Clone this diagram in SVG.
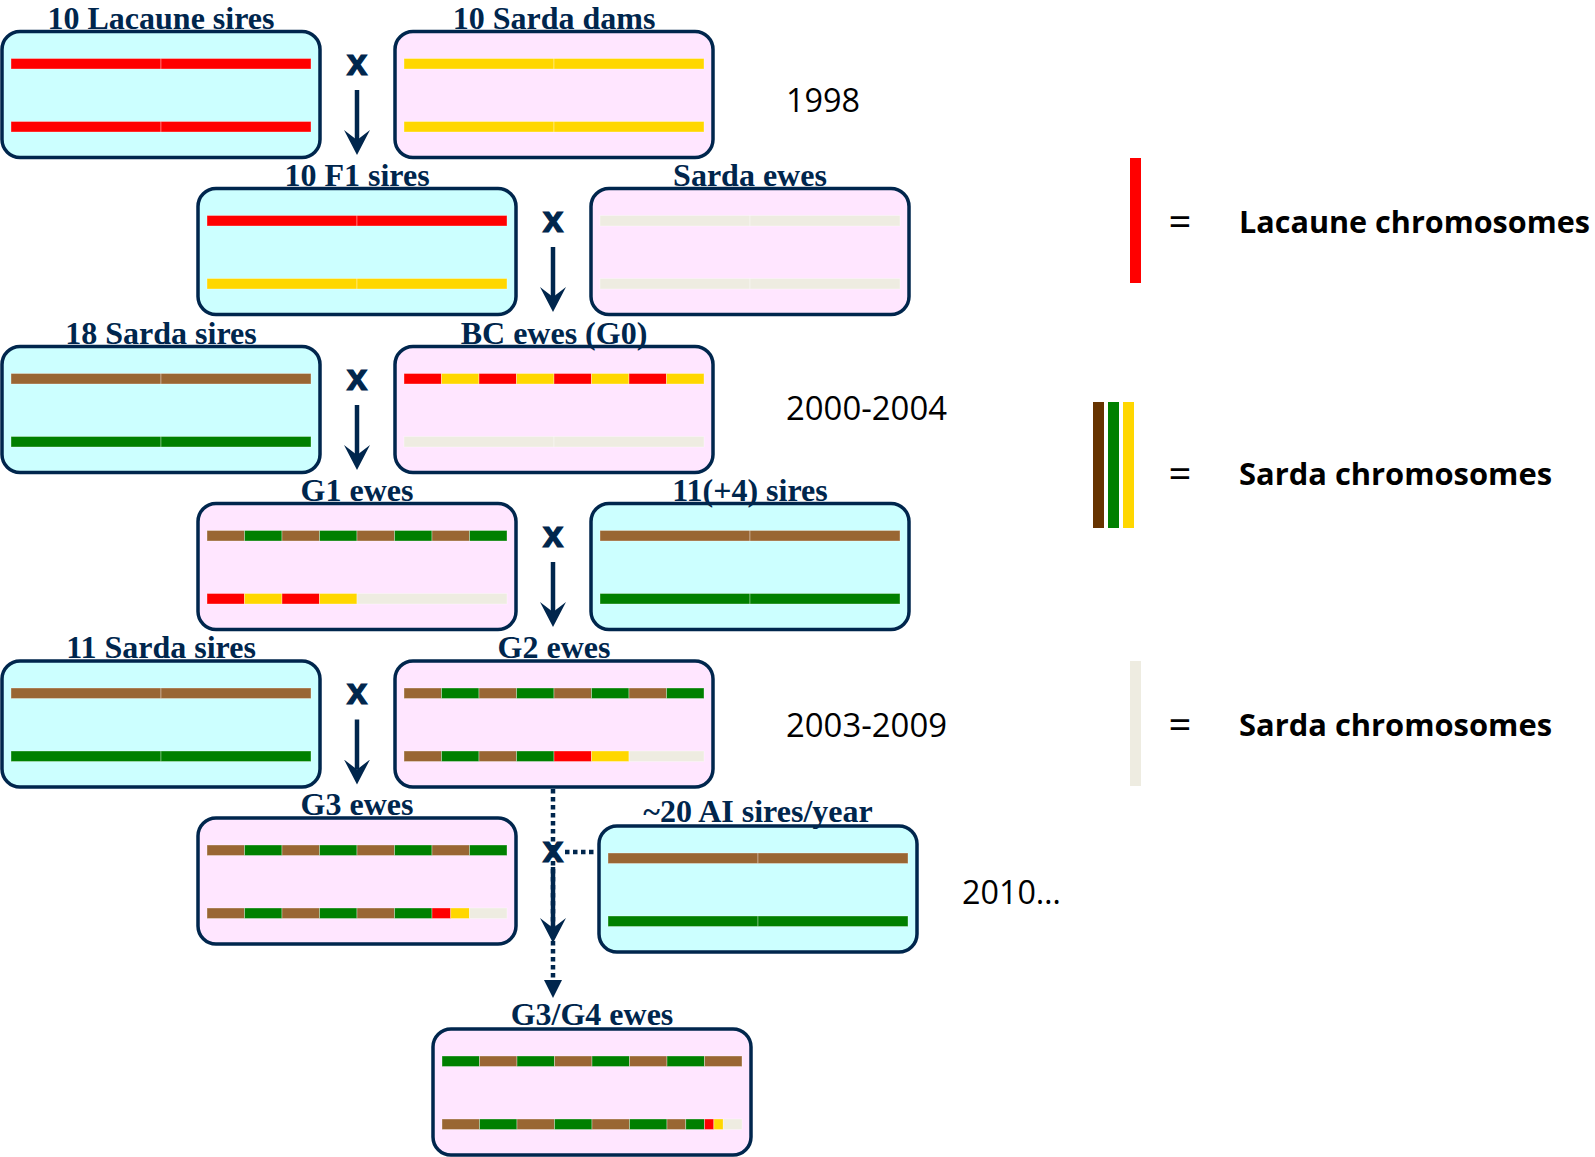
<svg xmlns="http://www.w3.org/2000/svg" width="1595" height="1157" viewBox="0 0 1595 1157">
<style>
.box{stroke:#00264D;stroke-width:3.5}
.cy{fill:#CCFFFF}
.pk{fill:#FFE6FF}
.lbl{font-family:"Liberation Serif","Times New Roman",serif;font-weight:bold;font-size:32px;fill:#00264D;text-anchor:middle}
.s{stroke:#FFFFFF;stroke-opacity:0.45;stroke-width:0.75}
.r{fill:#FF0000}
.y{fill:#FFD700}
.br{fill:#996633}
.g{fill:#008000}
.be{fill:#EEECE1}
.cross{font-family:"Liberation Sans",Arial,sans-serif;font-weight:bold;font-size:37px;fill:#00264D;stroke:#00264D;stroke-width:1.2;text-anchor:middle}
.arr{stroke:#00264D;stroke-width:4.5;fill:none}
.dot{stroke:#00264D;stroke-width:4.5;fill:none;stroke-dasharray:4.5 3.5}
.yr{font-family:"Open Sans","Liberation Sans",sans-serif;font-size:33px;fill:#000000}
.leg{font-family:"Open Sans","Liberation Sans",sans-serif;font-weight:bold;font-size:30.5px;fill:#000000}
.eq{font-family:"Open Sans","Liberation Sans",sans-serif;font-size:40px;fill:#000000;text-anchor:middle}
</style>
<defs>
<marker id="head" markerUnits="userSpaceOnUse" viewBox="0 -13 25 26" refX="10" refY="0" markerWidth="25" markerHeight="26" orient="auto">
<path d="M0,-13 L25,0 L0,13 L10,0 Z" fill="#00264D"/>
</marker>
<marker id="tri" markerUnits="userSpaceOnUse" viewBox="0 -9 18 18" refX="0" refY="0" markerWidth="18" markerHeight="18" orient="auto">
<path d="M0,-9 L18,0 L0,9 Z" fill="#00264D"/>
</marker>
</defs>
<rect width="1595" height="1157" fill="#FFFFFF"/>

<g id="connectors">
<text class="cross" x="357" y="74.5">x</text>
<line class="arr" x1="357" y1="90" x2="357" y2="140" marker-end="url(#head)"/>
<text class="cross" x="553" y="231.5">x</text>
<line class="arr" x1="553" y1="247" x2="553" y2="297" marker-end="url(#head)"/>
<text class="cross" x="357" y="389.5">x</text>
<line class="arr" x1="357" y1="405" x2="357" y2="455" marker-end="url(#head)"/>
<text class="cross" x="553" y="546.5">x</text>
<line class="arr" x1="553" y1="562" x2="553" y2="612" marker-end="url(#head)"/>
<text class="cross" x="357" y="704">x</text>
<line class="arr" x1="357" y1="719.5" x2="357" y2="769.5" marker-end="url(#head)"/>
<line class="dot" x1="553" y1="789" x2="553" y2="980" marker-end="url(#tri)"/>
<line class="dot" x1="565" y1="852" x2="594" y2="852"/>
<text class="cross" x="553" y="862">x</text>
<line class="arr" x1="553" y1="867" x2="553" y2="928" marker-end="url(#head)"/>
</g>

<g id="lacaune_sires" transform="translate(2,31.5)">
<rect class="box cy" width="318" height="126" rx="18"/>
<text class="lbl" x="159" y="-3">10 Lacaune sires</text>
<rect class="s r" x="9" y="27" width="150" height="10.5"/><rect class="s r" x="159" y="27" width="150" height="10.5"/>
<rect class="s r" x="9" y="90" width="150" height="10.5"/><rect class="s r" x="159" y="90" width="150" height="10.5"/>
</g>

<g id="sarda_dams" transform="translate(395,31.5)">
<rect class="box pk" width="318" height="126" rx="18"/>
<text class="lbl" x="159" y="-3">10 Sarda dams</text>
<rect class="s y" x="9" y="27" width="150" height="10.5"/><rect class="s y" x="159" y="27" width="150" height="10.5"/>
<rect class="s y" x="9" y="90" width="150" height="10.5"/><rect class="s y" x="159" y="90" width="150" height="10.5"/>
</g>

<g id="f1_sires" transform="translate(198,188.5)">
<rect class="box cy" width="318" height="126" rx="18"/>
<text class="lbl" x="159" y="-3">10 F1 sires</text>
<rect class="s r" x="9" y="27" width="150" height="10.5"/><rect class="s r" x="159" y="27" width="150" height="10.5"/>
<rect class="s y" x="9" y="90" width="150" height="10.5"/><rect class="s y" x="159" y="90" width="150" height="10.5"/>
</g>

<g id="sarda_ewes" transform="translate(591,188.5)">
<rect class="box pk" width="318" height="126" rx="18"/>
<text class="lbl" x="159" y="-3">Sarda ewes</text>
<rect class="s be" x="9" y="27" width="150" height="10.5"/><rect class="s be" x="159" y="27" width="150" height="10.5"/>
<rect class="s be" x="9" y="90" width="150" height="10.5"/><rect class="s be" x="159" y="90" width="150" height="10.5"/>
</g>

<g id="sarda_sires_18" transform="translate(2,346.5)">
<rect class="box cy" width="318" height="126" rx="18"/>
<text class="lbl" x="159" y="-3">18 Sarda sires</text>
<rect class="s br" x="9" y="27" width="150" height="10.5"/><rect class="s br" x="159" y="27" width="150" height="10.5"/>
<rect class="s g" x="9" y="90" width="150" height="10.5"/><rect class="s g" x="159" y="90" width="150" height="10.5"/>
</g>

<g id="bc_ewes_g0" transform="translate(395,346.5)">
<rect class="box pk" width="318" height="126" rx="18"/>
<text class="lbl" x="159" y="-3">BC ewes (G0)</text>
<rect class="s r" x="9" y="27" width="37.5" height="10.5"/><rect class="s y" x="46.5" y="27" width="37.5" height="10.5"/>
<rect class="s r" x="84" y="27" width="37.5" height="10.5"/><rect class="s y" x="121.5" y="27" width="37.5" height="10.5"/>
<rect class="s r" x="159" y="27" width="37.5" height="10.5"/><rect class="s y" x="196.5" y="27" width="37.5" height="10.5"/>
<rect class="s r" x="234" y="27" width="37.5" height="10.5"/><rect class="s y" x="271.5" y="27" width="37.5" height="10.5"/>
<rect class="s be" x="9" y="90" width="150" height="10.5"/><rect class="s be" x="159" y="90" width="150" height="10.5"/>
</g>

<g id="g1_ewes" transform="translate(198,503.5)">
<rect class="box pk" width="318" height="126" rx="18"/>
<text class="lbl" x="159" y="-3">G1 ewes</text>
<rect class="s br" x="9" y="27" width="37.5" height="10.5"/><rect class="s g" x="46.5" y="27" width="37.5" height="10.5"/>
<rect class="s br" x="84" y="27" width="37.5" height="10.5"/><rect class="s g" x="121.5" y="27" width="37.5" height="10.5"/>
<rect class="s br" x="159" y="27" width="37.5" height="10.5"/><rect class="s g" x="196.5" y="27" width="37.5" height="10.5"/>
<rect class="s br" x="234" y="27" width="37.5" height="10.5"/><rect class="s g" x="271.5" y="27" width="37.5" height="10.5"/>
<rect class="s r" x="9" y="90" width="37.5" height="10.5"/><rect class="s y" x="46.5" y="90" width="37.5" height="10.5"/>
<rect class="s r" x="84" y="90" width="37.5" height="10.5"/><rect class="s y" x="121.5" y="90" width="37.5" height="10.5"/>
<rect class="s be" x="159" y="90" width="150" height="10.5"/>
</g>

<g id="sires_11_4" transform="translate(591,503.5)">
<rect class="box cy" width="318" height="126" rx="18"/>
<text class="lbl" x="159" y="-3">11(+4) sires</text>
<rect class="s br" x="9" y="27" width="150" height="10.5"/><rect class="s br" x="159" y="27" width="150" height="10.5"/>
<rect class="s g" x="9" y="90" width="150" height="10.5"/><rect class="s g" x="159" y="90" width="150" height="10.5"/>
</g>

<g id="sarda_sires_11" transform="translate(2,661)">
<rect class="box cy" width="318" height="126" rx="18"/>
<text class="lbl" x="159" y="-3">11 Sarda sires</text>
<rect class="s br" x="9" y="27" width="150" height="10.5"/><rect class="s br" x="159" y="27" width="150" height="10.5"/>
<rect class="s g" x="9" y="90" width="150" height="10.5"/><rect class="s g" x="159" y="90" width="150" height="10.5"/>
</g>

<g id="g2_ewes" transform="translate(395,661)">
<rect class="box pk" width="318" height="126" rx="18"/>
<text class="lbl" x="159" y="-3">G2 ewes</text>
<rect class="s br" x="9" y="27" width="37.5" height="10.5"/><rect class="s g" x="46.5" y="27" width="37.5" height="10.5"/>
<rect class="s br" x="84" y="27" width="37.5" height="10.5"/><rect class="s g" x="121.5" y="27" width="37.5" height="10.5"/>
<rect class="s br" x="159" y="27" width="37.5" height="10.5"/><rect class="s g" x="196.5" y="27" width="37.5" height="10.5"/>
<rect class="s br" x="234" y="27" width="37.5" height="10.5"/><rect class="s g" x="271.5" y="27" width="37.5" height="10.5"/>
<rect class="s br" x="9" y="90" width="37.5" height="10.5"/><rect class="s g" x="46.5" y="90" width="37.5" height="10.5"/>
<rect class="s br" x="84" y="90" width="37.5" height="10.5"/><rect class="s g" x="121.5" y="90" width="37.5" height="10.5"/>
<rect class="s r" x="159" y="90" width="37.5" height="10.5"/><rect class="s y" x="196.5" y="90" width="37.5" height="10.5"/>
<rect class="s be" x="234" y="90" width="75" height="10.5"/>
</g>

<g id="g3_ewes" transform="translate(198,818)">
<rect class="box pk" width="318" height="126" rx="18"/>
<text class="lbl" x="159" y="-3">G3 ewes</text>
<rect class="s br" x="9" y="27" width="37.5" height="10.5"/><rect class="s g" x="46.5" y="27" width="37.5" height="10.5"/>
<rect class="s br" x="84" y="27" width="37.5" height="10.5"/><rect class="s g" x="121.5" y="27" width="37.5" height="10.5"/>
<rect class="s br" x="159" y="27" width="37.5" height="10.5"/><rect class="s g" x="196.5" y="27" width="37.5" height="10.5"/>
<rect class="s br" x="234" y="27" width="37.5" height="10.5"/><rect class="s g" x="271.5" y="27" width="37.5" height="10.5"/>
<rect class="s br" x="9" y="90" width="37.5" height="10.5"/><rect class="s g" x="46.5" y="90" width="37.5" height="10.5"/>
<rect class="s br" x="84" y="90" width="37.5" height="10.5"/><rect class="s g" x="121.5" y="90" width="37.5" height="10.5"/>
<rect class="s br" x="159" y="90" width="37.5" height="10.5"/><rect class="s g" x="196.5" y="90" width="37.5" height="10.5"/>
<rect class="s r" x="234" y="90" width="18.75" height="10.5"/><rect class="s y" x="252.75" y="90" width="18.75" height="10.5"/>
<rect class="s be" x="271.5" y="90" width="37.5" height="10.5"/>
</g>

<g id="ai_sires" transform="translate(599,826)">
<rect class="box cy" width="318" height="126" rx="18"/>
<text class="lbl" x="159" y="-4">~20 AI sires/year</text>
<rect class="s br" x="9" y="27" width="150" height="10.5"/><rect class="s br" x="159" y="27" width="150" height="10.5"/>
<rect class="s g" x="9" y="90" width="150" height="10.5"/><rect class="s g" x="159" y="90" width="150" height="10.5"/>
</g>

<g id="g3g4_ewes" transform="translate(433,1029)">
<rect class="box pk" width="318" height="126" rx="18"/>
<text class="lbl" x="159" y="-4">G3/G4 ewes</text>
<rect class="s g" x="9" y="27" width="37.5" height="10.5"/><rect class="s br" x="46.5" y="27" width="37.5" height="10.5"/>
<rect class="s g" x="84" y="27" width="37.5" height="10.5"/><rect class="s br" x="121.5" y="27" width="37.5" height="10.5"/>
<rect class="s g" x="159" y="27" width="37.5" height="10.5"/><rect class="s br" x="196.5" y="27" width="37.5" height="10.5"/>
<rect class="s g" x="234" y="27" width="37.5" height="10.5"/><rect class="s br" x="271.5" y="27" width="37.5" height="10.5"/>
<rect class="s br" x="9" y="90" width="37.5" height="10.5"/><rect class="s g" x="46.5" y="90" width="37.5" height="10.5"/>
<rect class="s br" x="84" y="90" width="37.5" height="10.5"/><rect class="s g" x="121.5" y="90" width="37.5" height="10.5"/>
<rect class="s br" x="159" y="90" width="37.5" height="10.5"/><rect class="s g" x="196.5" y="90" width="37.5" height="10.5"/>
<rect class="s br" x="234" y="90" width="18.75" height="10.5"/><rect class="s g" x="252.75" y="90" width="18.75" height="10.5"/>
<rect class="s r" x="271.5" y="90" width="9.375" height="10.5"/><rect class="s y" x="280.875" y="90" width="9.375" height="10.5"/>
<rect class="s be" x="290.25" y="90" width="18.75" height="10.5"/>
</g>

<g id="years">
<text class="yr" x="786" y="112" textLength="74" lengthAdjust="spacingAndGlyphs">1998</text>
<text class="yr" x="786" y="420" textLength="161" lengthAdjust="spacingAndGlyphs">2000-2004</text>
<text class="yr" x="786" y="737" textLength="161" lengthAdjust="spacingAndGlyphs">2003-2009</text>
<text class="yr" x="962" y="904" textLength="99" lengthAdjust="spacingAndGlyphs">2010…</text>
</g>

<g id="legend">
<rect x="1130" y="158" width="11" height="125" fill="#FF0000"/>
<text class="eq" x="1180" y="236">=</text>
<text class="leg" x="1239" y="233" textLength="351" lengthAdjust="spacingAndGlyphs">Lacaune chromosomes</text>
<rect x="1093" y="402" width="11" height="126" fill="#663300"/>
<rect x="1108" y="402" width="11" height="126" fill="#008000"/>
<rect x="1123" y="402" width="11" height="126" fill="#FFD700"/>
<text class="eq" x="1180" y="488">=</text>
<text class="leg" x="1239" y="485" textLength="313" lengthAdjust="spacingAndGlyphs">Sarda chromosomes</text>
<rect x="1130" y="661" width="11" height="125" fill="#EEECE1"/>
<text class="eq" x="1180" y="739">=</text>
<text class="leg" x="1239" y="736" textLength="313" lengthAdjust="spacingAndGlyphs">Sarda chromosomes</text>
</g>
</svg>
